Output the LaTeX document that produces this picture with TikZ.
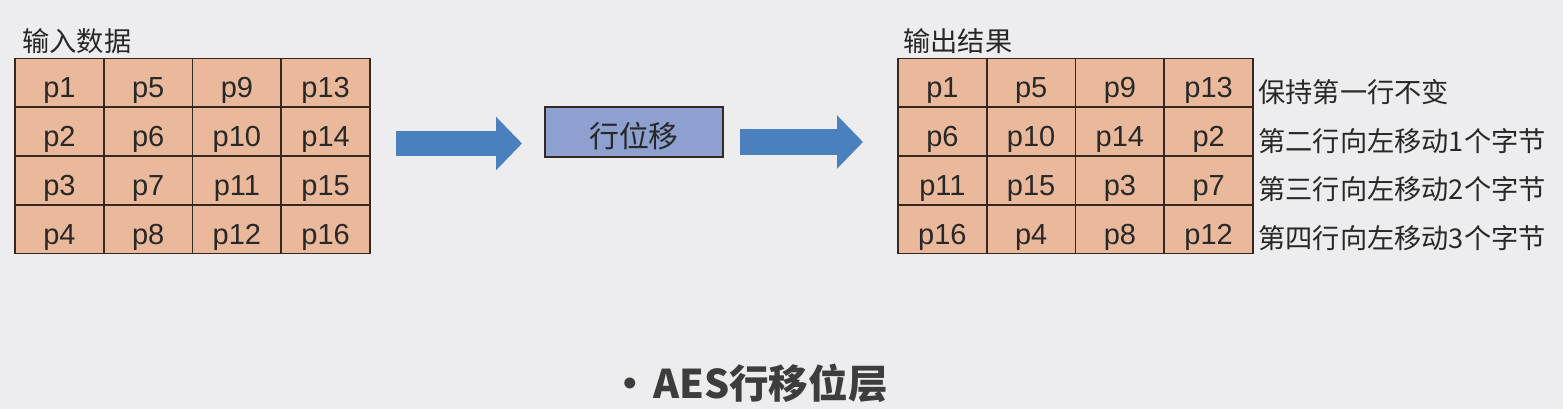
\documentclass[tikz,border=0pt]{standalone}
\usepackage{fontspec}
\setmainfont{Liberation Sans}
\newfontfamily\cjk{Noto Sans CJK SC}
\usepackage{tikz}
\usetikzlibrary{arrows.meta, calc}

\definecolor{bgcol}{RGB}{237,237,239}
\definecolor{cellcol}{RGB}{234,185,155}
\definecolor{linecol}{RGB}{52,40,32}
\definecolor{boxcol}{RGB}{141,160,207}
\definecolor{arrowcol}{RGB}{74,128,189}
\definecolor{textcol}{RGB}{40,40,40}

\tikzset{
  cell/.style={draw=linecol, fill=cellcol, line width=1.1pt, minimum width=1.775cm,
    minimum height=0.975cm, inner sep=0pt, outer sep=0pt, text=textcol,
    font=\fontsize{16.5}{18}\selectfont, text height=0.6cm, text depth=0cm},
  caption/.style={inner sep=0pt, text=textcol, font=\cjk\fontsize{15.5}{17}\selectfont},
  shiftbox/.style={draw=linecol, fill=boxcol, line width=1.2pt, minimum width=3.56cm,
    minimum height=1cm, inner sep=0pt, text=textcol, text height=0.62cm, text depth=0cm,
    font=\cjk\fontsize{17}{19}\selectfont},
  blockarrow/.style={draw=arrowcol, fill=arrowcol, line width=0.52cm,
    -{Triangle[length=0.52cm, width=1.04cm]}}
}

\begin{document}
\begin{tikzpicture}[x=0.02cm, y=-0.02cm]

		% background and page size
		\fill[bgcol] (0,0) rectangle (1563,409);
		\useasboundingbox (0,0) rectangle (1563,409);

		% Grid position parameters
		\def\xL{15}
		\def\xR{898}
		\def\ytop{58.5}
		\def\cellw{88.75}
		\def\cellh{48.75}

		% --- Input and output states ---
		\foreach \r in {1,...,4}{
			\foreach \c in {1,...,4}{
				\pgfmathtruncatemacro{\pin}{4*(\c-1)+\r}
				\pgfmathtruncatemacro{\pout}{4*mod(\c+\r-2,4)+\r}
				\node[cell] (in\r\c) at ({\xL+\cellw*(\c-0.5)}, {\ytop+\cellh*(\r-0.5)}) {p\pin};
				\node[cell] (out\r\c) at ({\xR+\cellw*(\c-0.5)}, {\ytop+\cellh*(\r-0.5)}) {p\pout};
			}
		}

		\node[caption, anchor=west] (inlabel) at ([xshift=0.14cm, yshift=0.35cm]in11.north west) {输入数据};
		\node[caption, anchor=west] (outlabel) at ([xshift=0.1cm, yshift=0.35cm]out11.north west) {输出结果};

		% --- Row notes ---
		\node[caption, anchor=west] (note1) at ([xshift=0.1cm, yshift=-0.18cm]out14.east) {保持第一行不变};
		\node[caption, anchor=west] (note2) at ([xshift=0.1cm, yshift=-0.18cm]out24.east) {第二行向左移动1个字节};
		\node[caption, anchor=west] (note3) at ([xshift=0.1cm, yshift=-0.18cm]out34.east) {第三行向左移动2个字节};
		\node[caption, anchor=west] (note4) at ([xshift=0.1cm, yshift=-0.18cm]out44.east) {第四行向左移动3个字节};

		% --- Operation box and arrows ---
		\node[shiftbox] (shift) at (634,132) {行位移};

		\coordinate (a1s) at (396,143.5);
		\coordinate (a1e) at (522,143.5);
		\coordinate (a2s) at (740,142);
		\coordinate (a2e) at (863,142);
		\draw[blockarrow] (a1s) -- (a1e);
		\draw[blockarrow] (a2s) -- (a2e);

		% --- Title ---
		\node[text=textcol!90!white, font=\cjk\bfseries\fontsize{22.5}{25}\selectfont] (title) at (749,383) {•\hspace{0.08em}AES行移位层};

	\end{tikzpicture}
\end{document}
